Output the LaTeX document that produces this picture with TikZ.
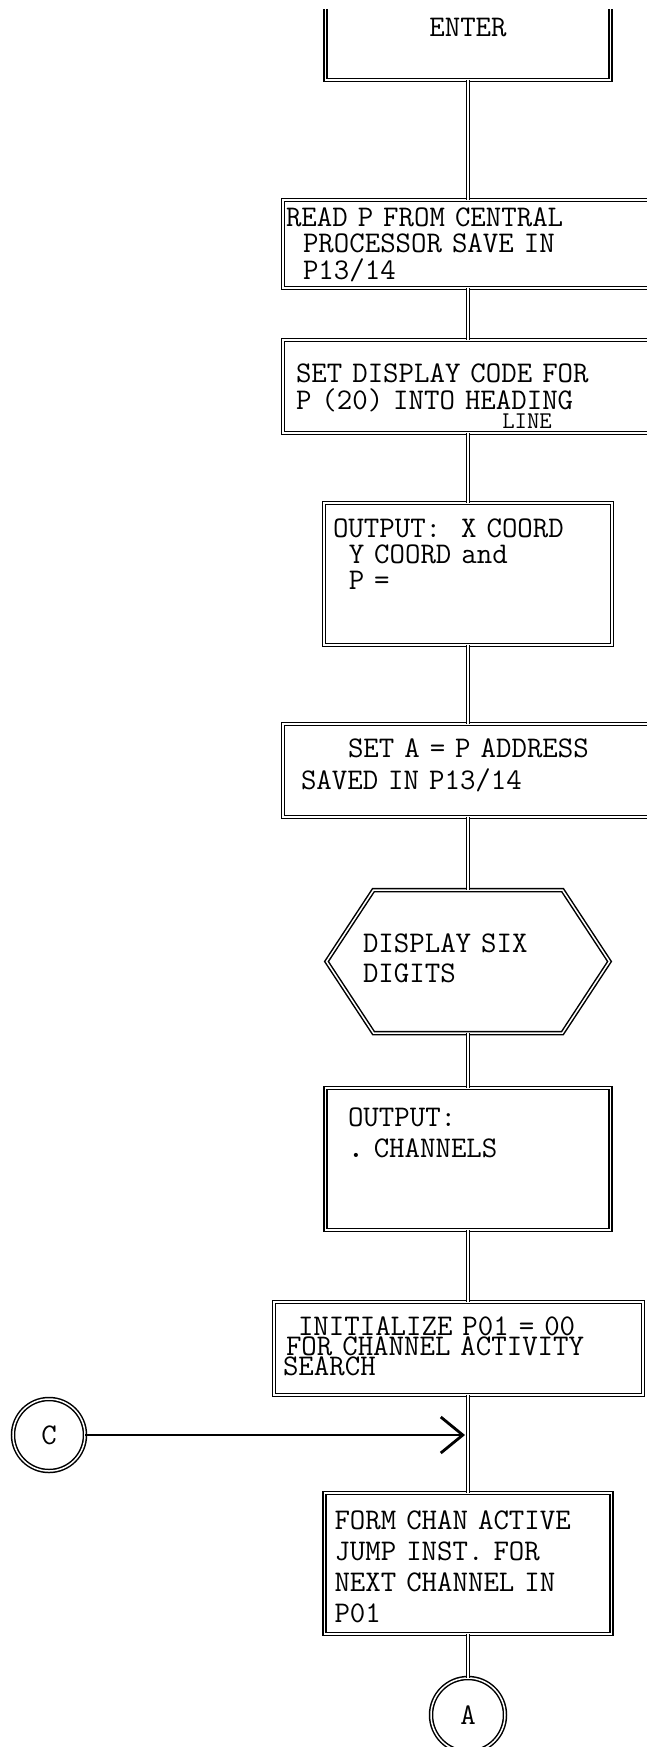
\documentclass[tikz,border=0pt]{standalone}
\usepackage{fontspec}
\usetikzlibrary{arrows.meta, positioning, calc}
% typewriter face with a fixed word space
\newcommand\tapefont[2][30pt]{\ttfamily\fontsize{#1}{#2}\selectfont\spaceskip=.525em\xspaceskip=.525em\relax}

\begin{document}
\begin{tikzpicture}[x=1pt, y=-1pt, font=\tapefont{30pt},
    ink/.style={line width=1.5pt, double distance=1.5pt},
    pitch/.style={font=\tapefont{#1}},
    procbox/.style={rectangle, draw, ink, inner ysep=0pt, outer sep=0pt, align=left},
    entrybox/.style={rectangle, inner sep=0pt, outer sep=0pt, minimum width=285pt},
    hexbox/.style={rectangle, inner ysep=0pt, outer sep=0pt, align=left, minimum width=283pt},
    conn/.style={circle, draw, ink, inner sep=0pt, outer sep=0pt},
    link/.style={ink},
    feed/.style={line width=2.8pt, -{Straight Barb[length=22pt, width=36pt]}, shorten >=3pt}]
  \useasboundingbox (0,0) rectangle (646,1747);

  % entry
  \node [entrybox, text height=28pt, text depth=43pt, anchor=north] (enter) at (468,9) {ENTER};
  \draw [ink] (enter.north west) -- (enter.south west) -- (enter.south east) -- (enter.north east);

  \node [procbox, below=120pt of enter, text width=364pt, inner xsep=3pt, text height=26pt, text depth=62pt, pitch=26.5pt] (read)
    {READ P FROM CENTRAL\\\hspace*{17pt}PROCESSOR SAVE IN\\\hspace*{17pt}P13/14};
  \node [procbox, below=52pt of read, text width=344pt, inner xsep=13pt, text height=42pt, text depth=51pt, pitch=27pt] (setdisp)
    {SET DISPLAY CODE FOR\\P (20) INTO HEADING};
  \node [font={\tapefont[24pt]{24pt}}, inner sep=0pt] (lineword) at (527,421) {LINE};
  \node [procbox, below=70pt of setdisp, text width=270pt, inner xsep=9pt, text height=34pt, text depth=108pt, pitch=26pt] (outxy)
    {OUTPUT:\ \ X COORD\\\hspace*{15.75pt}Y COORD and\\\hspace*{15.75pt}P =};
  \node [procbox, below=79pt of outxy, text width=334pt, inner xsep=18pt, text height=33pt, text depth=60pt, pitch=32pt] (seta)
    {\hspace*{47pt}SET A = P ADDRESS\\SAVED IN P13/14};

  % display hexagon
  \node [hexbox, below=73pt of seta, text width=210pt, inner xsep=36.5pt, text height=62pt, text depth=81pt, pitch=30pt] (hexa)
    {DISPLAY SIX\\DIGITS};
  \draw [ink] (hexa.west) -- ([xshift=47pt]hexa.north west) -- ([xshift=-47pt]hexa.north east) -- (hexa.east)
    -- ([xshift=-47pt]hexa.south east) -- ([xshift=47pt]hexa.south west) -- cycle;

  \node [procbox, below=55pt of hexa, text width=240pt, inner xsep=22.5pt, text height=38pt, text depth=104pt, pitch=31pt] (outch)
    {OUTPUT:\\{\bfseries .}\ CHANNELS};
  \node [procbox, below=72pt of outch, xshift=-9.5pt, text width=351pt, inner xsep=9pt, text height=33pt, text depth=60pt, pitch=20pt] (init)
    {\hspace*{15pt}INITIALIZE P01 = 00\\\hspace*{3pt}FOR CHANNEL ACTIVITY\\SEARCH};
  \node [procbox, below=98pt of init, xshift=9.5pt, text width=267pt, inner xsep=10pt, text height=36pt, text depth=105pt, pitch=31pt] (form)
    {FORM CHAN ACTIVE\\JUMP INST. FOR\\NEXT CHANNEL IN\\P01};

  % off-page connectors
  \node [conn, minimum size=74pt, below=44pt of form] (aconn) {A};
  \node [conn, minimum size=72pt] (cconn) at (49,1435) {C};

  \draw [link] (enter) -- (read);
  \draw [link] (read) -- (setdisp);
  \draw [link] (setdisp) -- (outxy);
  \draw [link] (outxy) -- (seta);
  \draw [link] (seta) -- (hexa);
  \draw [link] (hexa) -- (outch);
  \draw [link] (outch) -- (outch |- init.north);
  \draw [link] (init.south -| form) -- (form);
  \draw [link] (form) -- (aconn);
  \draw [feed] (cconn) -- (cconn -| form.north);
\end{tikzpicture}
\end{document}
